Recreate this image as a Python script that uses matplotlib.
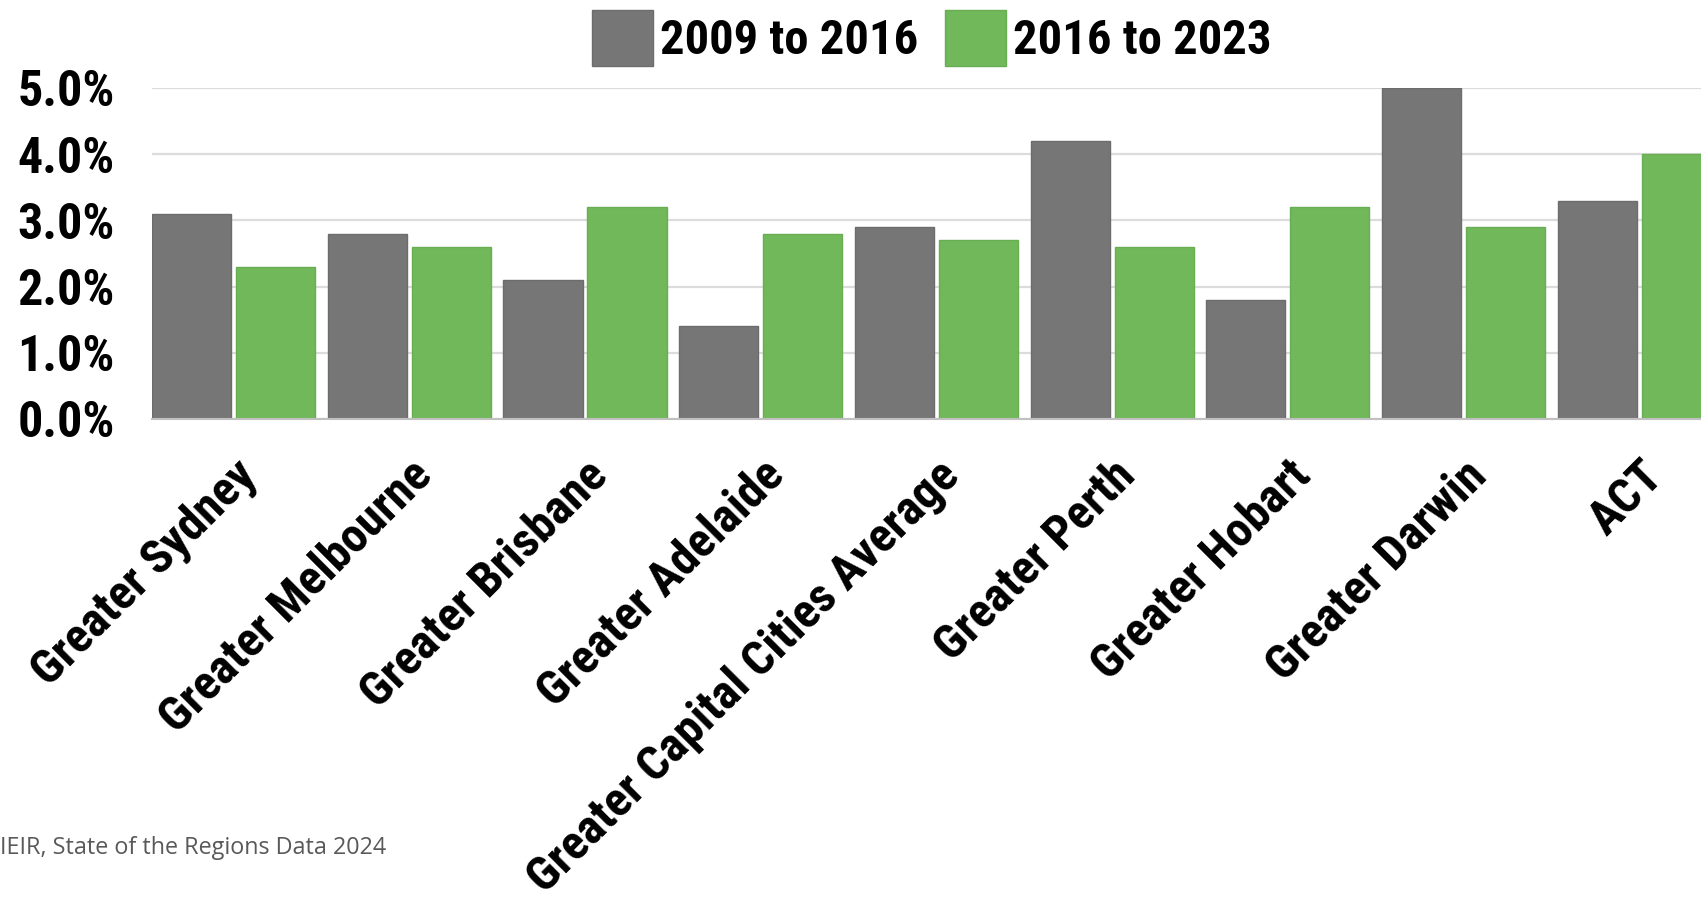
import matplotlib
matplotlib.use("Agg")
import matplotlib.pyplot as plt
from matplotlib import font_manager
import numpy as np

regions = [
    "Greater Sydney", "Greater Melbourne", "Greater Brisbane", "Greater Adelaide",
    "Greater Capital Cities Average", "Greater Perth", "Greater Hobart",
    "Greater Darwin", "ACT",
]
growth_2009_2016 = [3.1, 2.8, 2.1, 1.4, 2.9, 4.2, 1.8, 5.0, 3.3]
growth_2016_2023 = [2.3, 2.6, 3.2, 2.8, 2.7, 2.6, 3.2, 2.9, 4.0]
series_labels = ["2009 to 2016", "2016 to 2023"]
y_ticks = [0, 1, 2, 3, 4, 5]
source_note = "IEIR, State of the Regions Data 2024"

GRAY = "#767676"
GREEN = "#71b85b"

# pick a condensed bold face if one is installed
installed = {f.name for f in font_manager.fontManager.ttflist}
bold_kw = {"family": "DejaVu Sans", "weight": "bold"}
for cand in ("Roboto Condensed", "Liberation Sans Narrow", "Arial Narrow"):
    if cand in installed:
        bold_kw = {"family": cand, "weight": "heavy"}
        break
else:
    if any(f.name == "DejaVu Sans" and f.stretch == "condensed"
           for f in font_manager.fontManager.ttflist):
        bold_kw = {"family": "DejaVu Sans", "weight": "bold", "stretch": "condensed"}

fig = plt.figure(figsize=(17.01, 8.98), dpi=100)
ax = fig.add_axes([152 / 1701, 1 - 419 / 898, 1 - 152 / 1701, (419 - 88) / 898])

x = np.arange(len(regions))
w = 0.45
off = 0.239
b1 = ax.bar(x - off, growth_2009_2016, w, color=GRAY, edgecolor="#6c6c6c", lw=1,
            label=series_labels[0], zorder=3)
b2 = ax.bar(x + off, growth_2016_2023, w, color=GREEN, edgecolor="#68ad52", lw=1,
            label=series_labels[1], zorder=3)

ax.set_xlim(-0.464, 8.351)
ax.set_ylim(0, 5.0)
ax.set_yticks(y_ticks)
ax.set_yticklabels([f"{v:.1f}%" for v in y_ticks], fontsize=36, **bold_kw)
ax.grid(axis="y", color="#dcdcdc", lw=1.6, zorder=0)
ax.set_axisbelow(True)
for s in ("top", "right", "left"):
    ax.spines[s].set_visible(False)
ax.spines["bottom"].set_color("#c0c0c0")
ax.spines["bottom"].set_linewidth(1.5)
ax.spines["bottom"].set_zorder(4)
ax.tick_params(axis="y", length=0, pad=27)
ax.tick_params(axis="x", length=0, pad=24)
ax.set_xticks(x)
# the long label runs off the bottom edge, as in the source image
ax.set_xticklabels(regions, rotation=45, ha="right", rotation_mode="anchor",
                   fontsize=35, **bold_kw)

leg = fig.legend(handles=[b1, b2], labels=series_labels, loc="upper center",
                 bbox_to_anchor=(0.548, 1 - 10 / 898), ncol=2, frameon=False,
                 borderpad=0, borderaxespad=0, handlelength=1.25, handleheight=1.4,
                 handletextpad=0.15, columnspacing=0.55,
                 prop=font_manager.FontProperties(size=35, **bold_kw))

fig.text(0, 1 - 848 / 898, source_note, fontsize=16.8, family="Open Sans",
         color="#595959", ha="left", va="center")

fig.savefig("out.png", dpi=100)
